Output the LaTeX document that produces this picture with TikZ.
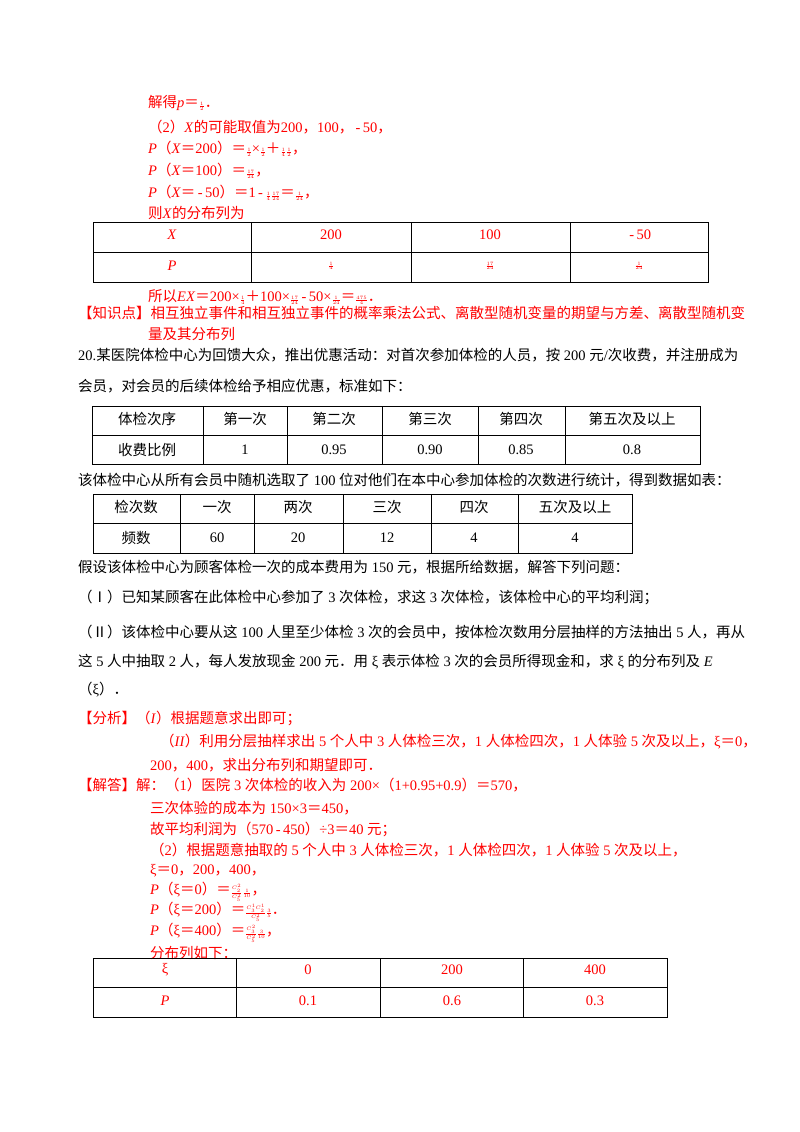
\documentclass[tikz,border=0pt]{standalone}
\usepackage{fontspec}
\setmainfont{Liberation Serif}
\newfontfamily\cjk{Noto Sans CJK SC}
\XeTeXinterchartokenstate=1
\newXeTeXintercharclass\cjkclass
\newcount\cc
\cc="4E00 \loop\XeTeXcharclass\cc=\cjkclass \advance\cc by 1 \ifnum\cc<"A000 \repeat
\cc="3000 \loop\XeTeXcharclass\cc=\cjkclass \advance\cc by 1 \ifnum\cc<"3040 \repeat
\cc="FF00 \loop\XeTeXcharclass\cc=\cjkclass \advance\cc by 1 \ifnum\cc<"FF5F \repeat
\cc="2160 \loop\XeTeXcharclass\cc=\cjkclass \advance\cc by 1 \ifnum\cc<"2170 \repeat
\XeTeXinterchartoks 0 \cjkclass {\cjk}
\XeTeXinterchartoks 4095 \cjkclass {\cjk}
\XeTeXinterchartoks \cjkclass 0 {\rmfamily}
\XeTeXinterchartoks \cjkclass 4095 {\rmfamily}
\definecolor{ans}{RGB}{255,0,0}
\newcommand\fr[2]{{\fontsize{5}{5}\selectfont$\frac{#1}{#2}$}}
\newcommand\mn{\,-\,}
\tikzset{t/.style={anchor=west,inner sep=0pt,font=\fontsize{14.5}{16}\selectfont},
 r/.style={t,text=ans},
 c/.style={anchor=center,inner sep=0pt,font=\fontsize{14.5}{16}\selectfont},
 tb/.style={line width=1pt}}
\begin{document}
\begin{tikzpicture}[x=1pt,y=-1pt]
\useasboundingbox[fill=white] (0,0) rectangle (800,1132);
\node[r] (l1) at (148,103) {解得\textit{p}＝\fr12．};
\node[r] (l2) at (148,127) {（2）\textit{X}的可能取值为200，100，\mn50，};
\node[r] (l3) at (148,149) {\textit{P}（\textit{X}＝200）＝\fr12×\fr12＋\fr14\fr12，};
\node[r] (l4) at (148,171) {\textit{P}（\textit{X}＝100）＝\fr{17}{24}，};
\node[r] (l5) at (148,193) {\textit{P}（\textit{X}＝\mn50）＝1\mn\fr14\fr{17}{24}＝\fr1{24}，};
\node[r] (l6) at (148,213) {则\textit{X}的分布列为};
\draw[tb] (93,222) rectangle (708,282) (93,252)--(708,252)
 (251,222)--(251,282) (411,222)--(411,282) (570,222)--(570,282);
\foreach \x/\a/\b in {172/\textit{X}/\textit{P},331/200/\fr14,490/100/\fr{17}{24},639/\mn50/\fr1{24}}
 {\node[c,text=ans] at (\x,235) {\a}; \node[c,text=ans] at (\x,266) {\b};}
\node[r] (l7) at (148,297) {所以\textit{EX}＝200×\fr14＋100×\fr{17}{24}\mn50×\fr1{24}＝\fr{475}4．};
\node[r] (l8) at (78,313) {【知识点】相互独立事件和相互独立事件的概率乘法公式、离散型随机变量的期望与方差、离散型随机变};
\node[r] (l9) at (148,334) {量及其分布列};
\node[t] (p1) at (78,355) {20.某医院体检中心为回馈大众，推出优惠活动：对首次参加体检的人员，按~200~元/次收费，并注册成为};
\node[t] (p2) at (78,386) {会员，对会员的后续体检给予相应优惠，标准如下：};
\draw[tb] (92,406) rectangle (700,464) (92,435)--(700,435);
\foreach \x in {203,287,382,478,565} \draw[tb] (\x,406)--(\x,464);
\foreach \x/\a/\b in {147/体检次序/收费比例,245/第一次/1,334/第二次/0.95,430/第三次/0.90,521/第四次/0.85,632/第五次及以上/0.8}
 {\node[c] at (\x,419) {\a}; \node[c] at (\x,450) {\b};}
\node[t] (p3) at (78,480) {该体检中心从所有会员中随机选取了~100~位对他们在本中心参加体检的次数进行统计，得到数据如表：};
\draw[tb] (93,494) rectangle (632,553) (93,523)--(632,523);
\foreach \x in {180,254,343,431,518} \draw[tb] (\x,494)--(\x,553);
\foreach \x/\a/\b in {136/检次数/频数,217/一次/60,298/两次/20,387/三次/12,474/四次/4,575/五次及以上/4}
 {\node[c] at (\x,507) {\a}; \node[c] at (\x,538) {\b};}
\node[t] (p4) at (78,567) {假设该体检中心为顾客体检一次的成本费用为~150~元，根据所给数据，解答下列问题：};
\node[t] (p5) at (78,597) {（Ⅰ）已知某顾客在此体检中心参加了~3~次体检，求这~3~次体检，该体检中心的平均利润；};
\node[t] (p6) at (78,632) {（Ⅱ）该体检中心要从这~100~人里至少体检~3~次的会员中，按体检次数用分层抽样的方法抽出~5~人，再从};
\node[t] (p7) at (78,662) {这~5~人中抽取~2~人，每人发放现金~200~元．用~ξ~表示体检~3~次的会员所得现金和，求~ξ~的分布列及~\textit{E}};
\node[t] (p8) at (78,690) {（ξ）．};
\node[r] (a1) at (78,718) {【分析】（\textit{I}）根据题意求出即可；};
\node[r] (a2) at (160,742) {（\textit{II}）利用分层抽样求出~5~个人中~3~人体检三次，1~人体检四次，1~人体验~5~次及以上，ξ＝0，};
\node[r] (a3) at (150,765) {200，400，求出分布列和期望即可．};
\node[r] (s1) at (78,785) {【解答】解：（1）医院~3~次体检的收入为~200×（1+0.95+0.9）＝570，};
\node[r] (s2) at (150,808) {三次体验的成本为~150×3＝450，};
\node[r] (s3) at (150,829) {故平均利润为（570\mn450）÷3＝40~元；};
\node[r] (s4) at (150,850) {（2）根据题意抽取的~5~个人中~3~人体检三次，1~人体检四次，1~人体验~5~次及以上，};
\node[r] (s5) at (150,871) {ξ＝0，200，400，};
\node[r] (s6) at (150,892) {\textit{P}（ξ＝0）＝\fr{C_2^2}{C_5^2}\fr1{10}，};
\node[r] (s7) at (150,912) {\textit{P}（ξ＝200）＝\fr{C_3^1C_2^1}{C_5^2}\fr35．};
\node[r] (s8) at (150,933) {\textit{P}（ξ＝400）＝\fr{C_3^2}{C_5^2}\fr3{10}，};
\node[r] (s9) at (150,953) {分布列如下：};
\draw[tb] (93,958) rectangle (667,1017) (93,987)--(667,987);
\foreach \x in {236,380,523} \draw[tb] (\x,958)--(\x,1017);
\foreach \x/\a/\b in {165/ξ/\textit{P},308/0/0.1,452/200/0.6,595/400/0.3}
 {\node[c,text=ans] at (\x,970) {\a}; \node[c,text=ans] at (\x,1001) {\b};}
\end{tikzpicture}
\end{document}
